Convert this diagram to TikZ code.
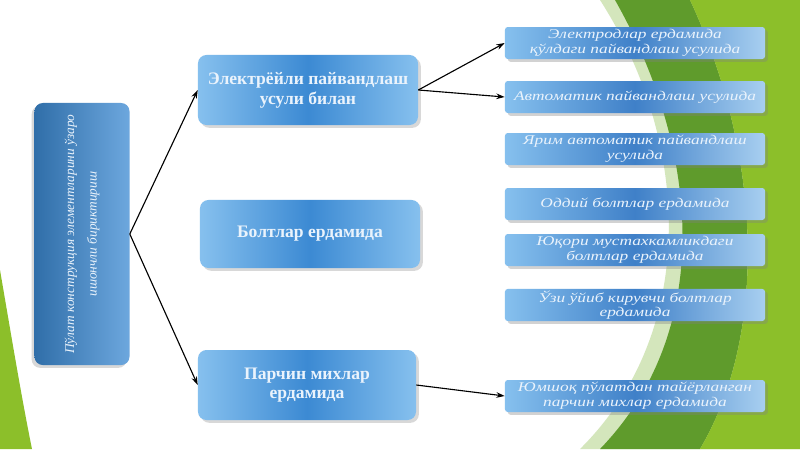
\documentclass[tikz,border=0pt]{standalone}
\usepackage{fontspec}
\setmainfont{Liberation Serif}
\newfontfamily\wideserif[FakeStretch=1.3]{Liberation Serif}
\usetikzlibrary{arrows.meta,shadows}
\definecolor{leafgreen}{HTML}{8CBF2A}
\definecolor{darkleaf}{HTML}{5F9B2C}
\definecolor{paleleaf}{HTML}{D4E6BC}
\definecolor{boxlight}{HTML}{86C0EE}
\definecolor{boxdark}{HTML}{3C8AD3}
\definecolor{leafblue}{HTML}{3F80C8}
\definecolor{leafend}{HTML}{A8CFF0}
\definecolor{boxtext}{HTML}{EAF3FC}
\newcommand{\wayleaf}[4][]{\node[leafbox,#1] at (#2) (#3) {#4}}

\begin{document}
\begin{tikzpicture}[x=0.025cm,y=-0.025cm,
		leafbox/.style={rounded corners=2pt,minimum width=6.5cm,minimum height=0.8cm,
			align=center,inner sep=1pt,left color=boxlight,right color=leafend,middle color=leafblue,
			drop shadow={opacity=0.35,shadow xshift=2pt,shadow yshift=-2pt},
			text=boxtext,font=\wideserif\itshape\fontsize{9.5}{10.5}\selectfont},
		waybox/.style={rounded corners=6pt,minimum width=5.5cm,minimum height=1.75cm,
			align=center,left color=boxlight,right color=boxlight,middle color=boxdark,
			drop shadow={opacity=0.3,shadow xshift=2pt,shadow yshift=-2pt},
			text=boxtext,font=\bfseries\fontsize{12.5}{14}\selectfont},
		arr/.style={-{Stealth[length=6pt,width=4pt]},line width=0.8pt,black}]
				\useasboundingbox (0,0) rectangle (800,449);
				\fill[white] (0,0) rectangle (800,449);
				
				% green leaves in the back
				\begin{scope}
					\clip (0,0) rectangle (800,449);
					\fill[paleleaf] (600,0) .. controls (690,140) and (700,330) .. (580,449) -- (800,449) -- (800,0) -- cycle;
					\fill[darkleaf] (615,0) .. controls (700,150) and (715,330) .. (600,449) -- (700,449) .. controls (770,330) and (760,150) .. (690,0) -- cycle;
					\fill[leafgreen] (690,0) .. controls (760,150) and (770,330) .. (700,449) -- (800,449) -- (800,0) -- cycle;
					\fill[leafgreen] (0,270) .. controls (12,340) and (22,400) .. (32,449) -- (0,449) -- cycle;
				\end{scope}
				
				\node[rotate=90,rounded corners=6pt,minimum width=6.55cm,minimum height=2.375cm,inner sep=1pt,
					align=center,left color=boxdark!80!black,right color=boxdark!75!white,
					drop shadow={opacity=0.3,shadow xshift=-2pt,shadow yshift=-2pt},
					text=boxtext,font=\itshape\fontsize{9.5}{16}\selectfont] at (82,234) (main)
					{Пўлат конструкция элементларини ўзаро\\ ишончли бириктириш};
				
				\node[waybox] at (308,90) (weld) {Электрёйли пайвандлаш\\ усули билан};
				\node[waybox,minimum height=1.7cm] at (310,234) (bolt) {Болтлар ердамида};
				\node[waybox,minimum width=5.45cm] at (307,385) (rivet) {Парчин михлар\\ ердамида};
				
				\wayleaf{635,43}{hand}{Электродлар ердамида\\ қўлдаги пайвандлаш усулида};
				\wayleaf{635,97}{auto}{Автоматик пайвандлаш усулида};
				\wayleaf{635,149}{semi}{Ярим автоматик пайвандлаш\\ усулида};
				\wayleaf{635,204}{plain}{Оддий болтлар ердамида};
				\wayleaf{635,250}{strong}{Юқори мустахкамликдаги\\ болтлар ердамида};
				\wayleaf{635,305}{self}{Ўзи ўйиб кирувчи болтлар\\ ердамида};
				\wayleaf{635,396}{soft}{Юмшоқ пўлатдан тайёрланган\\ парчин михлар ердамида};
				
				\draw[arr] (main.south) -- (weld.west);
				\draw[arr] (main.south) -- (rivet.west);
				\draw[arr] (weld.east) -- (hand.west);
				\draw[arr] (weld.east) -- (auto.west);
				\draw[arr] (rivet.east) -- (soft.west);
				
\end{tikzpicture}
\end{document}
